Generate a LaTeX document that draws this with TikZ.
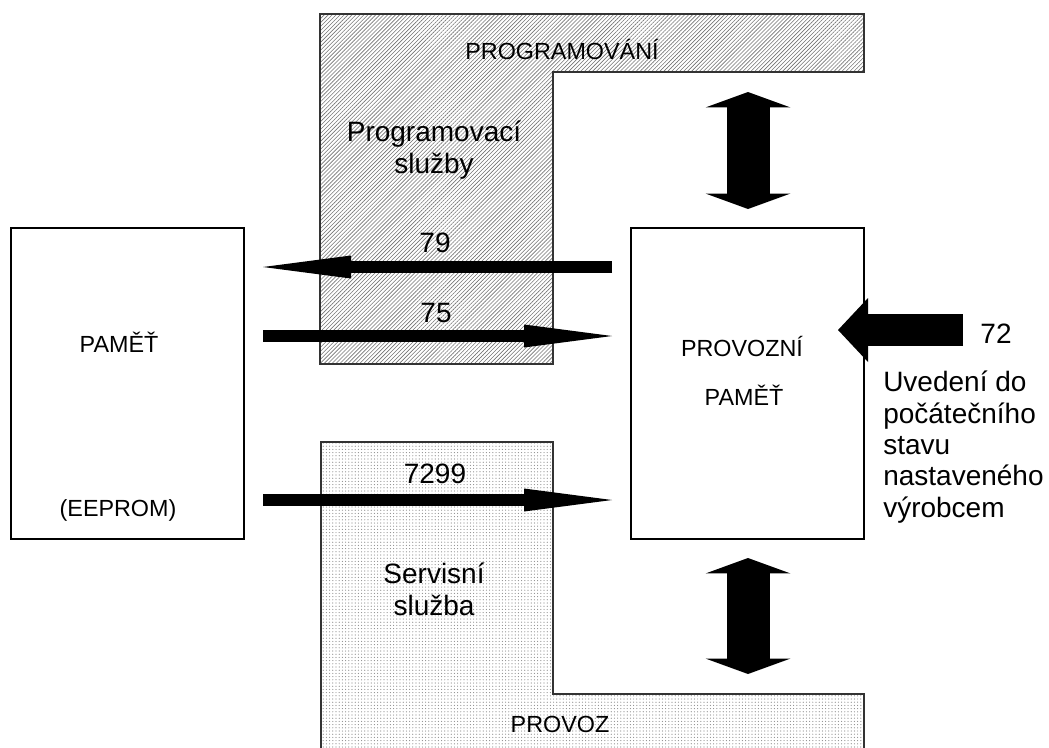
\documentclass[tikz,border=0pt]{standalone}
\usepackage{fontspec}
\setmainfont{Liberation Sans}
\usetikzlibrary{arrows.meta,patterns.meta}

\tikzset{
  memory/.style={draw, line width=0.8pt, fill=white, minimum width=174.75pt, minimum height=233.25pt, inner sep=0pt, outer sep=0pt},
  capslabel/.style={font=\fontsize{17.5}{20}\selectfont, anchor=base, inner sep=0pt},
  biglabel/.style={font=\fontsize{21}{23.5}\selectfont, anchor=base, inner sep=0pt, align=center},
  hatcharea/.style={draw=black!80, line width=0.8pt, pattern={Lines[angle=45,distance=2.1pt,line width=0.45pt]}, pattern color=black!55},
  dotarea/.style={draw=black!80, line width=0.8pt, pattern={Dots[distance=2.4pt,radius=0.45pt]}, pattern color=black!45},
  flow/.style={line width=8.8pt, -{Triangle[length=66pt,width=17.25pt,line width=0pt]}},
  blockboth/.style={line width=32.25pt, {Triangle[length=11.6pt,width=63.75pt,line width=0pt]}-{Triangle[length=11.6pt,width=63.75pt,line width=0pt]}},
  block/.style={line width=24pt, -{Triangle[length=22.5pt,width=48pt,line width=0pt]}}
}

\begin{document}
\begin{tikzpicture}[x=0.75pt,y=-0.75pt]
\useasboundingbox (0,0) rectangle (1049,747);
% shaded areas
\draw[hatcharea] (320,14) -- (864,14) -- (864,72) -- (553,72) -- (553,364) -- (320,364) -- cycle;
\draw[dotarea] (321,442) -- (553,442) -- (553,694) -- (864,694) -- (864,760) -- (321,760) -- cycle;
\coordinate (progband) at (748,72);
\coordinate (provband) at (748,694);
\coordinate (resetin) at (963,330);
\node[capslabel] (progtitle) at (562,59) {PROGRAMOVÁNÍ};
\node[biglabel] (progserv) at (434,173) {Programovací\\služby};
\node[biglabel] (servtext) at (434,615) {Servisní\\služba};
\node[capslabel] (provtitle) at (560,732) {PROVOZ};
% memories
\node[memory] (mem) at (127.5,383.5) {};
\node[memory] (prov) at (747.5,383.5) {};
\node[capslabel] (memtext) at (119,352) {PAMĚŤ};
\node[capslabel] (eeprom) at (118,516) {(EEPROM)};
\node[capslabel] (provtext) at (742,356) {PROVOZNÍ};
\node[capslabel] (provmem) at (744,405) {PAMĚŤ};
% arrows
\draw[flow] ([shift={(-19,-116.5)}]prov.west) -- ([shift={(19,-116.5)}]mem.east);
\draw[flow] ([shift={(19,-47.5)}]mem.east) -- ([shift={(-19,-47.5)}]prov.west);
\draw[flow] ([shift={(19,116.5)}]mem.east) -- ([shift={(-19,116.5)}]prov.west);
\draw[blockboth] ([shift={(0,20)}]progband) -- ([shift={(0.5,-19)}]prov.north);
\draw[blockboth] ([shift={(0.5,19)}]prov.south) -- ([shift={(0,-20)}]provband);
\draw[block] (resetin) -- ([shift={(-26,-53.5)}]prov.east);
\node[biglabel] (n79) at (435,252) {79};
\node[biglabel] (n75) at (436,322) {75};
\node[biglabel] (n7299) at (435,483) {7299};
\node[biglabel] (n72) at (996,343) {72};
\node[biglabel, align=left, anchor=base west] (resettext) at (883,517) {Uvedení do\\počátečního\\stavu\\nastaveného\\výrobcem};
\end{tikzpicture}
\end{document}
